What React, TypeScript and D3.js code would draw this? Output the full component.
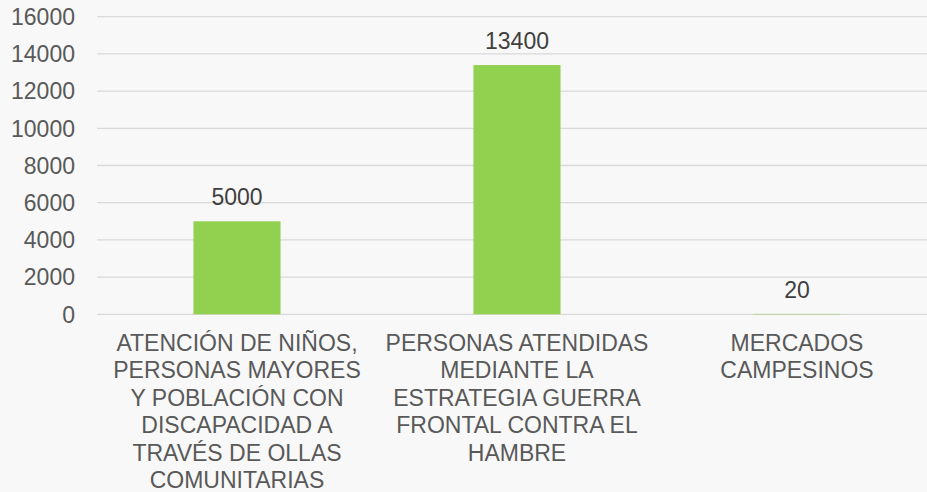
import React from "react";
import * as d3 from "d3";

const categories = ["ollas", "guerra", "mercados"];
const categoryLines = [
  ["ATENCIÓN DE NIÑOS,", "PERSONAS MAYORES", "Y POBLACIÓN CON", "DISCAPACIDAD A", "TRAVÉS DE OLLAS", "COMUNITARIAS"],
  ["PERSONAS ATENDIDAS", "MEDIANTE LA", "ESTRATEGIA GUERRA", "FRONTAL CONTRA EL", "HAMBRE"],
  ["MERCADOS", "CAMPESINOS"],
];
const values = [5000, 13400, 20];
const yTicks = [0, 2000, 4000, 6000, 8000, 10000, 12000, 14000, 16000];

const W = 927;
const H = 492;

export default function App() {
  const x = d3
    .scaleBand<string>()
    .domain(categories)
    .range([97, 937])
    .paddingInner(0.689)
    .paddingOuter(0.3445);
  const y = d3.scaleLinear().domain([0, 16000]).range([314.3, 16.7]);
  const font = "'Liberation Sans', Arial, sans-serif";

  return (
    <svg
      width={W}
      height={H}
      style={{ position: "absolute", left: 0, top: 0 }}
      fontFamily={font}
    >
      <rect x={0} y={0} width={W} height={H} fill="#f8f8f8" />
      {yTicks.map((t) => (
        <g key={t}>
          <line x1={97} x2={W} y1={y(t)} y2={y(t)} stroke="#d9d9d9" strokeWidth={1.3} />
          <text
            x={75}
            y={y(t)}
            dy="0.36em"
            textAnchor="end"
            fontSize={23}
            fill="#595959"
          >
            {t}
          </text>
        </g>
      ))}
      {categories.map((c, i) => {
        const bx = x(c) as number;
        const cx = bx + x.bandwidth() / 2;
        return (
          <g key={c}>
            <rect
              x={bx}
              y={y(values[i])}
              width={x.bandwidth()}
              height={y(0) - y(values[i])}
              fill="#92d050"
            />
            <text
              x={cx}
              y={y(values[i]) - 16}
              textAnchor="middle"
              fontSize={23}
              fill="#404040"
            >
              {values[i]}
            </text>
            {categoryLines[i].map((ln, j) => (
              <text
                key={j}
                x={cx}
                y={351 + j * 27.4}
                textAnchor="middle"
                fontSize={23}
                fill="#595959"
              >
                {ln}
              </text>
            ))}
          </g>
        );
      })}
    </svg>
  );
}
